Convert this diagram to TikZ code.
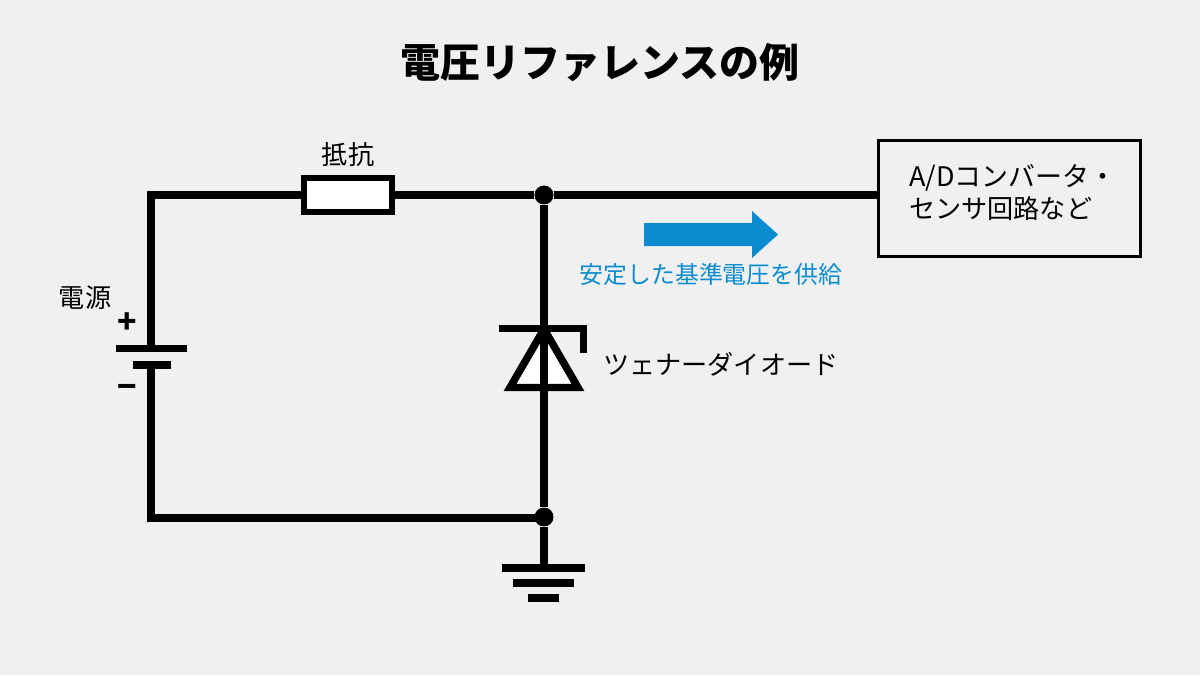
\documentclass[tikz,border=0pt]{standalone}
\usepackage{fontspec}
\setmainfont{Noto Sans CJK JP}
\definecolor{bgc}{HTML}{F0F0F0}
\definecolor{bluec}{HTML}{0B8CD0}
\tikzset{
 wire/.style={line width=5.6pt,line cap=butt,line join=miter},
 plate/.style={fill=black,draw=none},
 lbl/.style={inner sep=0pt,font=\fontsize{19.6pt}{22pt}\selectfont},
 dotn/.style={circle,fill=black,inner sep=0pt,minimum size=14.2pt},
}
\begin{document}
\begin{tikzpicture}[x=0.75pt,y=-0.75pt]
\useasboundingbox (0,0) rectangle (1200,675);
\fill[bgc] (0,0) rectangle (1200,675);
\node[inner sep=0pt,font=\fontsize{30pt}{33pt}\selectfont\bfseries] (title) at (600,63) {電圧リファレンスの例};
% coordinates
\coordinate (tl) at (151,195);
\coordinate (bl) at (151,518);
\coordinate (battop) at (151,349);
\coordinate (batbot) at (151,365);
\node[dotn] (j1) at (544,195) {};
\node[dotn] (j2) at (544,517) {};
\coordinate (gnd) at (544,568);
\node[draw,line width=2.6pt,fill=bgc,minimum width=196.5pt,minimum height=87pt,inner sep=0pt,anchor=north west] (box) at (877,139) {};
\node[draw,line width=4.4pt,fill=white,minimum width=66pt,minimum height=25pt,inner sep=0pt] (res) at (348,195) {};
% wires
\draw[wire] (battop) -- (tl) -- (res.west);
\draw[wire] (res.east) -- (j1) -- (j1 -| box.west);
\draw[wire] (batbot) -- (bl) -- (bl -| j2);
% zener
\coordinate (za) at (544,329);
\coordinate (zbl) at (510,387.5);
\coordinate (zbr) at (578,387.5);
\draw[line width=5.6pt,fill=white,line join=miter] (za) -- (zbr) -- (zbl) -- cycle;
\draw[wire] (j1) -- (j2);
\draw[wire] (499,328.5) -- (583.5,328.5) -- (583.5,353);
\draw[wire] (j2) -- (gnd);
% battery
\fill[plate] (116,345) rectangle (187,352);
\fill[plate] (133,361) rectangle (171,369);
\node[inner sep=0pt,font=\fontsize{24pt}{26pt}\selectfont\bfseries] (plus) at (127,323) {+};
\node[inner sep=0pt,font=\fontsize{24pt}{26pt}\selectfont\bfseries] (minus) at (127,391) {−};
% ground
\fill[plate] (502,564) rectangle (585,572);
\fill[plate] (513,579) rectangle (574,587);
\fill[plate] (528,594) rectangle (559,602);
% arrow
\fill[bluec] (644,223) -- (752,223) -- (752,211) -- (778,234.5) -- (752,258) -- (752,246) -- (644,246) -- cycle;
% labels
\node[lbl] (l1) at (348,155) {抵抗};
\node[lbl] (l2) at (85,298) {電源};
\node[lbl,anchor=west] (l3) at (603,364) {ツェナーダイオード};
\node[lbl,text=bluec,font=\fontsize{17.9pt}{20pt}\selectfont] (l4) at (711,274) {安定した基準電圧を供給};
\node[lbl,anchor=west,font=\fontsize{20.2pt}{22pt}\selectfont] (l5) at (909,178) {A/Dコンバータ・};
\node[lbl,anchor=west] (l6) at (909,209) {センサ回路など};
\end{tikzpicture}
\end{document}
